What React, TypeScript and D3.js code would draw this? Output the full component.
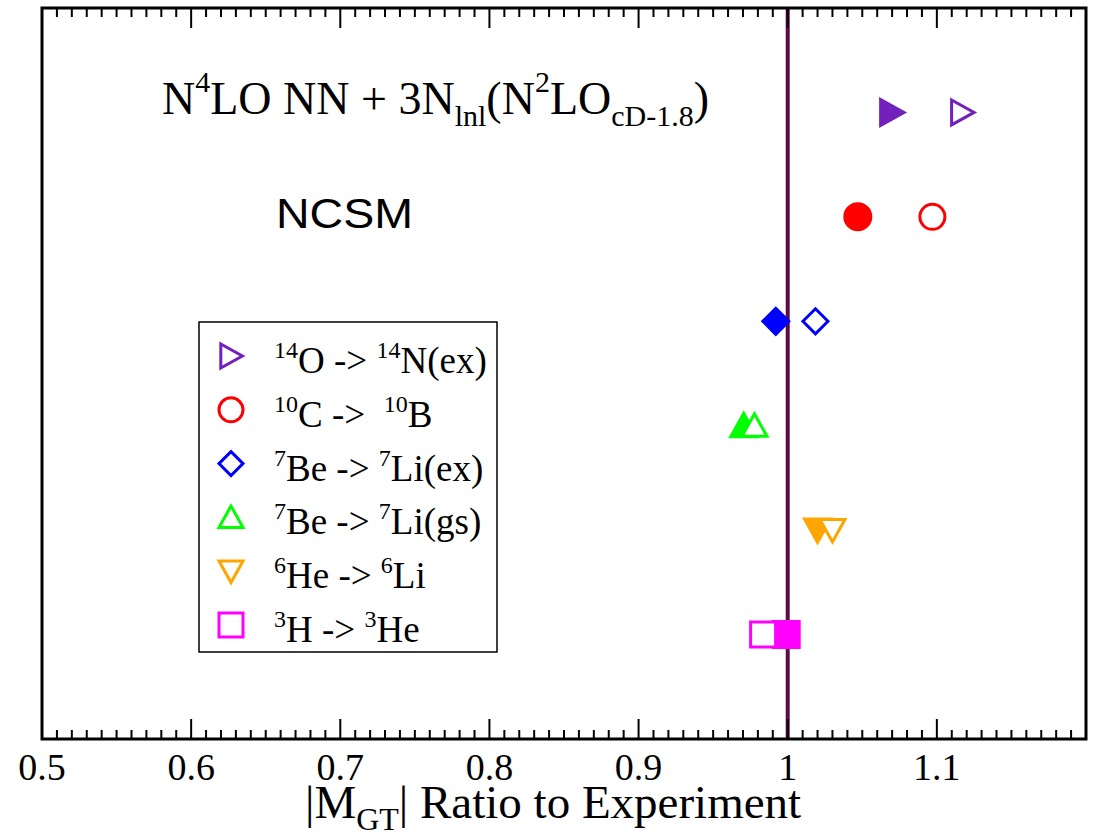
import React from "react";
import * as d3 from "d3";

// transitions, bottom to top (y = 1..6)
const transitions = ["3H-3He", "6He-6Li", "7Be-7Li(gs)", "7Be-7Li(ex)", "10C-10B", "14O-14N(ex)"];
const rowIndex = [1, 2, 3, 4, 5, 6];
const filledRatio = [0.999, 1.02, 0.9705, 0.992, 1.047, 1.0697];
const openRatio = [0.9835, 1.03, 0.9777, 1.0186, 1.097, 1.117];
const colors = ["#ff00ff", "#ffa500", "#00ff00", "#0000ff", "#ff0000", "#7221bc"];
const shapes = ["square", "triDown", "triUp", "diamond", "circle", "triRight"];

// legend, top to bottom
const legendOrder = [5, 4, 3, 2, 1, 0];
const legendLabels: [string, string, string, string][] = [
  ["3", "H -> ", "3", "He"],
  ["6", "He -> ", "6", "Li"],
  ["7", "Be -> ", "7", "Li(gs)"],
  ["7", "Be -> ", "7", "Li(ex)"],
  ["10", "C -> \u00a0", "10", "B"],
  ["14", "O -> ", "14", "N(ex)"],
];

const majorTicks = [0.5, 0.6, 0.7, 0.8, 0.9, 1.0, 1.1];
const tickLabels = ["0.5", "0.6", "0.7", "0.8", "0.9", "1", "1.1"];

const W = 1094;
const H = 834;
const left = 42;
const right = 1086;
const top = 8;
const bottom = 739;

const x = d3.scaleLinear().domain([0.5, 1.2]).range([left, right]);
const y = d3.scaleLinear().domain([0, 7]).range([bottom, top]);

const serif = "'Liberation Serif', 'Times New Roman', serif";
const sans = "'Liberation Sans', Arial, sans-serif";

function markerPath(shape: string, r: number): string {
  switch (shape) {
    case "square":
      return `M${-r},${-r}H${r}V${r}H${-r}Z`;
    case "triDown":
      return `M${-r},${-r * 0.85}H${r}L0,${r * 0.95}Z`;
    case "triUp":
      return `M${-r},${r * 0.85}H${r}L0,${-r * 0.95}Z`;
    case "triRight":
      return `M${-r * 0.85},${-r}V${r}L${r * 0.95},0Z`;
    case "diamond":
      return `M0,${-r}L${r},0L0,${r}L${-r},0Z`;
    default:
      return "";
  }
}

const Marker = ({ shape, color, filled, cx, cy, r, sw }: any) => {
  const fill = filled ? color : "white";
  if (shape === "circle") {
    return <circle cx={cx} cy={cy} r={r} fill={fill} stroke={color} strokeWidth={sw} />;
  }
  return (
    <path
      transform={`translate(${cx},${cy})`}
      d={markerPath(shape, r)}
      fill={fill}
      stroke={color}
      strokeWidth={sw}
    />
  );
};

const App = () => {
  const minorTicks = d3.range(50, 120).map((v) => v / 100).filter((v) => Math.round(v * 100) % 10 !== 0);

  const axisTicks = (edge: "top" | "bottom") => {
    const dir = edge === "bottom" ? -1 : 1;
    const y0 = edge === "bottom" ? bottom : top;
    return (
      <g stroke="black" strokeWidth={2}>
        {majorTicks.map((t) => (
          <line key={"M" + t} x1={x(t)} x2={x(t)} y1={y0} y2={y0 + dir * 20} />
        ))}
        {minorTicks.map((t) => (
          <line key={"m" + t} x1={x(t)} x2={x(t)} y1={y0} y2={y0 + dir * 9} />
        ))}
      </g>
    );
  };

  return (
    <svg width={W} height={H} style={{ position: "absolute", left: 0, top: 0, background: "white" }}>
      <rect x={0} y={0} width={W} height={H} fill="white" />

      {/* reference line at ratio 1 */}
      <line x1={x(1)} x2={x(1)} y1={top} y2={bottom} stroke="#5e0a46" strokeWidth={4} />

      {/* frame */}
      <rect x={left} y={top} width={right - left} height={bottom - top} fill="none" stroke="black" strokeWidth={3} />
      {axisTicks("bottom")}
      {axisTicks("top")}

      {/* tick labels */}
      {majorTicks.map((t, i) => (
        <text key={t} x={x(t)} y={780} textAnchor="middle" fontFamily={serif} fontSize={38} fill="black">
          {tickLabels[i]}
        </text>
      ))}

      {/* axis title */}
      <text x={305} y={818} fontFamily={serif} fontSize={47} fill="black">
        |M<tspan dy={12} fontSize={32}>GT</tspan>
        <tspan dy={-12}>| Ratio to Experiment</tspan>
      </text>

      {/* data points */}
      {transitions.map((name, i) => (
        <g key={name}>
          <Marker shape={shapes[i]} color={colors[i]} filled cx={x(filledRatio[i])} cy={y(rowIndex[i])} r={13} sw={3} />
          <Marker shape={shapes[i]} color={colors[i]} filled={false} cx={x(openRatio[i])} cy={y(rowIndex[i])} r={12.5} sw={3} />
        </g>
      ))}

      {/* title */}
      <text x={162} y={114} fontFamily={serif} fontSize={46} fill="black">
        N<tspan dy={-22} fontSize={30}>4</tspan>
        <tspan dy={22}>LO NN + 3N</tspan>
        <tspan dy={12} fontSize={30}>lnl</tspan>
        <tspan dy={-12}>(N</tspan>
        <tspan dy={-22} fontSize={30}>2</tspan>
        <tspan dy={22}>LO</tspan>
        <tspan dy={12} fontSize={30}>cD-1.8</tspan>
        <tspan dy={-12}>)</tspan>
      </text>

      <text x={276} y={228} fontFamily={sans} fontSize={43} fill="black" textLength={137} lengthAdjust="spacingAndGlyphs">
        NCSM
      </text>

      {/* legend */}
      <rect x={199} y={322} width={298} height={330} fill="white" stroke="black" strokeWidth={1.5} />
      {legendOrder.map((idx, k) => {
        const base = 373 + k * 53.8;
        const lab = legendLabels[idx];
        return (
          <g key={"leg" + idx}>
            <Marker shape={shapes[idx]} color={colors[idx]} filled={false} cx={231} cy={base - 17} r={12} sw={3} />
            <text x={274} y={base} fontFamily={serif} fontSize={37} fill="black">
              <tspan dy={-15} fontSize={24}>{lab[0]}</tspan>
              <tspan dy={15}>{lab[1]}</tspan>
              <tspan dy={-15} fontSize={24}>{lab[2]}</tspan>
              <tspan dy={15}>{lab[3]}</tspan>
            </text>
          </g>
        );
      })}
    </svg>
  );
};

export default App;
